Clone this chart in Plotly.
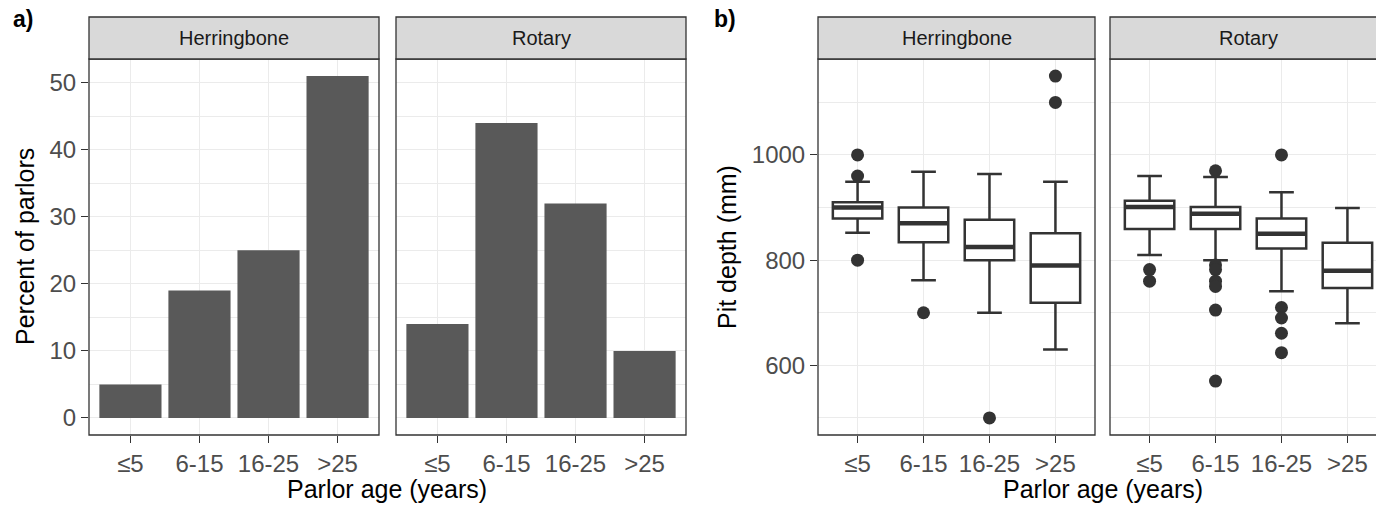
import plotly.graph_objects as go

# ---------------- data ----------------
categories = ["≤5", "6-15", "16-25", ">25"]
facets = ["Herringbone", "Rotary"]

herr_percent = [5, 19, 25, 51]
rot_percent = [14, 44, 32, 10]

herr_q1 = [879, 834, 800, 719]
herr_median = [900, 870, 825, 790]
herr_q3 = [910, 900, 877, 851]
herr_lowerfence = [852, 762, 700, 630]
herr_upperfence = [949, 968, 964, 949]
herr_out_x = ["≤5", "≤5", "≤5", "6-15", "16-25", ">25", ">25"]
herr_out_y = [1000, 960, 800, 700, 500, 1150, 1100]

rot_q1 = [859, 859, 822, 747]
rot_median = [901, 888, 850, 780]
rot_q3 = [913, 901, 879, 833]
rot_lowerfence = [810, 800, 741, 680]
rot_upperfence = [960, 958, 929, 899]
rot_out_x = ["≤5", "≤5", "6-15", "6-15", "6-15", "6-15", "6-15", "6-15", "6-15",
             "16-25", "16-25", "16-25", "16-25", "16-25"]
rot_out_y = [782, 760, 970, 791, 782, 760, 750, 705, 570,
             1000, 710, 690, 661, 624]

# ---------------- styling ----------------
W, H = 1376, 505
FONT = "Liberation Sans, Arial, sans-serif"
DARK = "#333333"
TICKC = "#4D4D4D"
GRID = "#EBEBEB"
BARC = "#595959"
STRIP = "#D9D9D9"


def px(x):
    return x / W


def py(y):
    return 1 - y / H


PANEL_TOP, PANEL_BOT, STRIP_TOP = 59, 435, 17
panels = {
    "a1": (89, 379), "a2": (396, 686),
    "b1": (818, 1095), "b2": (1110, 1387),
}

fig = go.Figure()

# bars
fig.add_trace(go.Bar(x=categories, y=herr_percent, width=0.9, marker_color=BARC,
                     marker_line_width=0, xaxis="x", yaxis="y", showlegend=False))
fig.add_trace(go.Bar(x=categories, y=rot_percent, width=0.9, marker_color=BARC,
                     marker_line_width=0, xaxis="x2", yaxis="y2", showlegend=False))

# boxes
for (q1, med, q3, lo, hi, ox, oy, xa, ya) in [
    (herr_q1, herr_median, herr_q3, herr_lowerfence, herr_upperfence, herr_out_x, herr_out_y, "x3", "y3"),
    (rot_q1, rot_median, rot_q3, rot_lowerfence, rot_upperfence, rot_out_x, rot_out_y, "x4", "y4"),
]:
    fig.add_trace(go.Box(x=categories, q1=q1, median=med, q3=q3, lowerfence=lo, upperfence=hi,
                         width=0.75, fillcolor="white", line=dict(color=DARK, width=2.5),
                         boxpoints=False, xaxis=xa, yaxis=ya, showlegend=False))
    # thicker median line
    fig.add_trace(go.Box(x=categories, q1=med, median=med, q3=med, lowerfence=med, upperfence=med,
                         width=0.75, fillcolor="rgba(0,0,0,0)", line=dict(color=DARK, width=4.5),
                         boxpoints=False, xaxis=xa, yaxis=ya, showlegend=False))
    fig.add_trace(go.Scatter(x=ox, y=oy, mode="markers",
                             marker=dict(color=DARK, size=13, line_width=0),
                             xaxis=xa, yaxis=ya, showlegend=False))

ydom = [py(PANEL_BOT), py(PANEL_TOP)]
tickfont = dict(family=FONT, size=24, color=TICKC)


def xaxis_def(key, anchor):
    x0, x1 = panels[key]
    d1 = min(x1, W)
    span = 4.2 * (d1 - x0) / (x1 - x0)
    return dict(domain=[px(x0), px(d1)], anchor=anchor, type="category",
                categoryorder="array", categoryarray=categories,
                range=[-0.6, -0.6 + span], showgrid=True, gridcolor=GRID, gridwidth=1.2,
                ticks="outside", ticklen=7, tickwidth=1.3, tickcolor=DARK,
                tickfont=tickfont, showline=False, zeroline=False, fixedrange=True)


def yaxis_def(anchor, rng, dtick, minor, labels):
    return dict(domain=ydom, anchor=anchor, range=rng, tick0=0, dtick=dtick,
                showgrid=True, gridcolor=GRID, gridwidth=1.2,
                minor=dict(tick0=0, dtick=minor, showgrid=True, gridcolor=GRID, gridwidth=0.6),
                ticks="outside" if labels else "", ticklen=7, tickwidth=1.3, tickcolor=DARK,
                showticklabels=labels, tickfont=tickfont, zeroline=False,
                showline=False, fixedrange=True)


ya_rng = [-2.55, 53.55]
yb_rng = [467.5, 1182.5]

fig.update_layout(
    width=W, height=H, margin=dict(l=0, r=0, t=0, b=0),
    paper_bgcolor="white", plot_bgcolor="white", boxmode="overlay", barmode="overlay",
    font=dict(family=FONT),
    xaxis=xaxis_def("a1", "y"), xaxis2=xaxis_def("a2", "y2"),
    xaxis3=xaxis_def("b1", "y3"), xaxis4=xaxis_def("b2", "y4"),
    yaxis=yaxis_def("x", ya_rng, 10, 5, True),
    yaxis2=yaxis_def("x2", ya_rng, 10, 5, False),
    yaxis3=yaxis_def("x3", yb_rng, 200, 100, True),
    yaxis4=yaxis_def("x4", yb_rng, 200, 100, False),
)

shapes = []
annotations = []
strip_names = {"a1": facets[0], "a2": facets[1], "b1": facets[0], "b2": facets[1]}
for key, (x0, x1) in panels.items():
    shapes.append(dict(type="rect", xref="paper", yref="paper",
                       x0=px(x0), x1=px(x1), y0=py(PANEL_BOT), y1=py(PANEL_TOP),
                       line=dict(color=DARK, width=1.3), fillcolor="rgba(0,0,0,0)", layer="above"))
    shapes.append(dict(type="rect", xref="paper", yref="paper",
                       x0=px(x0), x1=px(x1), y0=py(PANEL_TOP), y1=py(STRIP_TOP),
                       line=dict(color=DARK, width=1.3), fillcolor=STRIP, layer="above"))
    annotations.append(dict(text=strip_names[key], xref="paper", yref="paper",
                            x=px((x0 + x1) / 2), y=py((STRIP_TOP + PANEL_TOP) / 2),
                            showarrow=False, xanchor="center", yanchor="middle",
                            font=dict(family=FONT, size=20, color="#1A1A1A")))

title_font = dict(family=FONT, size=25, color="black")
annotations += [
    dict(text="Parlor age (years)", xref="paper", yref="paper",
         x=px((panels["a1"][0] + panels["a2"][1]) / 2), y=py(489),
         showarrow=False, xanchor="center", yanchor="middle", font=title_font),
    dict(text="Parlor age (years)", xref="paper", yref="paper",
         x=px((panels["b1"][0] + panels["b2"][1]) / 2), y=py(489),
         showarrow=False, xanchor="center", yanchor="middle", font=title_font),
    dict(text="Percent of parlors", xref="paper", yref="paper", textangle=-90,
         x=px(25), y=py((PANEL_TOP + PANEL_BOT) / 2),
         showarrow=False, xanchor="center", yanchor="middle", font=title_font),
    dict(text="Pit depth (mm)", xref="paper", yref="paper", textangle=-90,
         x=px(727), y=py((PANEL_TOP + PANEL_BOT) / 2),
         showarrow=False, xanchor="center", yanchor="middle", font=title_font),
    dict(text="<b>a)</b>", xref="paper", yref="paper", x=px(23), y=py(19),
         showarrow=False, xanchor="center", yanchor="middle",
         font=dict(family=FONT, size=23, color="black")),
    dict(text="<b>b)</b>", xref="paper", yref="paper", x=px(725), y=py(19),
         showarrow=False, xanchor="center", yanchor="middle",
         font=dict(family=FONT, size=23, color="black")),
]
fig.update_layout(shapes=shapes, annotations=annotations)

fig.write_html(
    "out.html",
    config={"displayModeBar": False},
    post_script="document.body.style.margin='0';document.body.style.overflow='hidden';"
)
